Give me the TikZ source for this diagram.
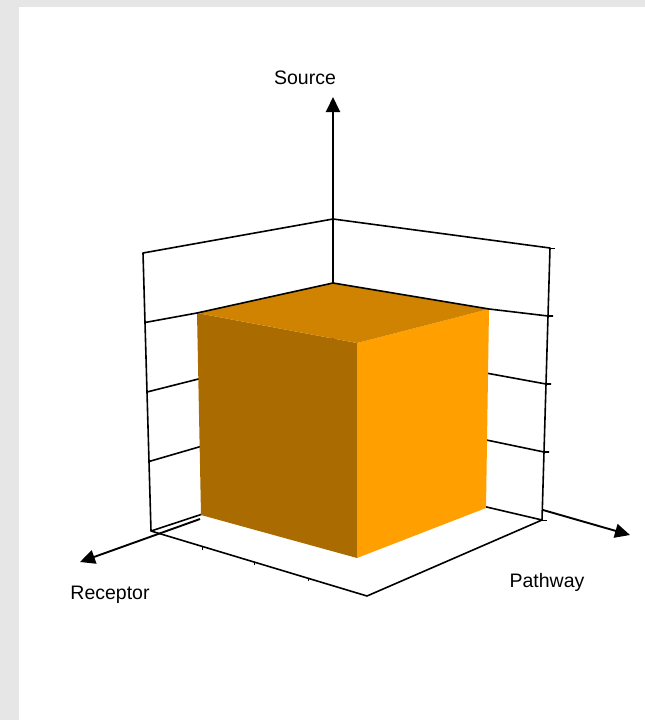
\documentclass[tikz,border=0pt]{standalone}
\usepackage{fontspec}
\setmainfont{Liberation Sans}
\usetikzlibrary{arrows.meta,calc}
\definecolor{framegray}{HTML}{E6E6E6}
\definecolor{cubeleft}{HTML}{AA6C00}
\definecolor{cubetop}{HTML}{D08300}
\definecolor{cuberight}{HTML}{FFA000}
\begin{document}
\begin{tikzpicture}[x=1pt, y=-1pt, >={Triangle[length=15pt, width=14pt]},
    wall/.style={line width=1.6pt, line join=round},
    axis/.style={->, line width=1.9pt},
    tick/.style={line width=0.8pt},
    label/.style={font=\fontsize{19.5}{23}\selectfont}]
    \useasboundingbox (0,0) rectangle (645,720);
    \fill[framegray] (0,0) rectangle (645,720);
    \fill[white] (19,7) rectangle (645,720);
    % corners of the three walls
    \coordinate (bt) at (333,219); \coordinate (bb) at (333,471);
    \coordinate (lt) at (143,253); \coordinate (lb) at (151,531);
    \coordinate (rt) at (550,248); \coordinate (rb) at (542,520);
    \coordinate (ft) at (367,596);
    % walls and floor
    \draw[wall] (lb) -- (lt) -- (bt) -- (rt) -- (rb);
    \draw[wall] (bt) -- (bb);
    \draw[wall] (lb) -- (bb) -- (rb) -- (ft) -- cycle;
    \foreach \t in {0.5,0.75}
        \draw[wall] ($(lt)!\t!(lb)$) -- ($(bt)!\t!(bb)$) -- ($(rt)!\t!(rb)$) -- ++(5,0);
    \draw[tick] (rt) -- ++(5,0);
    \draw[tick] (rb) -- ++(5,0);
    \foreach \t in {0.24,0.48,0.73}
        \draw[tick] ($(lb)!\t!(ft)$) -- ++(0,3);
    % axes
    \coordinate (srce) at (333,97);
    \coordinate (rcs) at (200,519); \coordinate (rce) at (80,562);
    \coordinate (pws) at (543,510); \coordinate (pwe) at (630,535);
    \draw[axis] (bt) -- (srce);
    \draw[axis] (rcs) -- (rce);
    \draw[axis] (pws) -- (pwe);
    % the cube
    \coordinate (cb) at (333,283); \coordinate (cl) at (197,313);
    \coordinate (cf) at (357,343); \coordinate (cr) at (489,309);
    \coordinate (clb) at (201,515); \coordinate (cfb) at (357,558);
    \coordinate (crb) at (486,508);
    \fill[cubeleft] (cl) -- (cf) -- (cfb) -- (clb) -- cycle;
    \fill[cuberight] (cf) -- (cr) -- (crb) -- (cfb) -- cycle;
    \fill[cubetop] (cb) -- (cl) -- (cf) -- (cr) -- cycle;
    \draw[wall] ($(lt)!0.25!(lb)$) -- (cl) -- (cb) -- (cr) -- ($(rt)!0.25!(rb)$) -- ++(5,0);
    % labels
    \node[label] (srclbl) at (305,78) {Source};
    \node[label] (reclbl) at (110,595) {Receptor};
    \node[label] (pathlbl) at (547,582) {Pathway};
\end{tikzpicture}
\end{document}
